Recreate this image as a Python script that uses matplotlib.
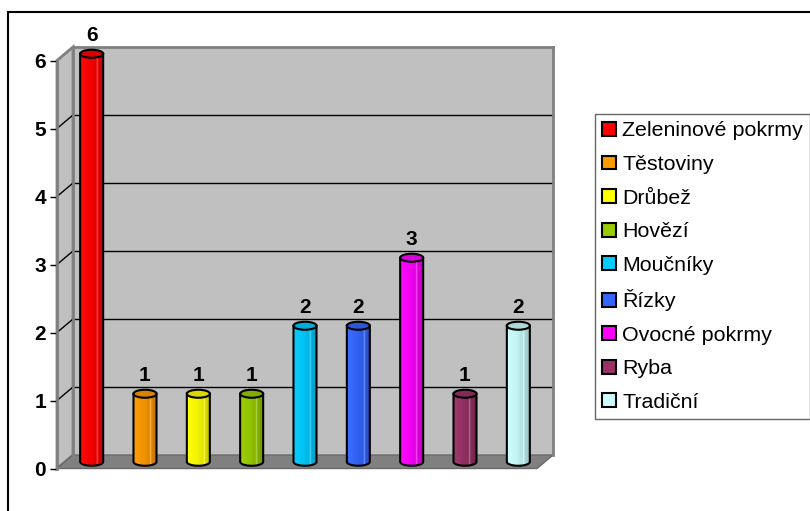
import matplotlib
matplotlib.use('Agg')
import matplotlib.pyplot as plt
import numpy as np
from matplotlib.patches import Polygon, PathPatch, Ellipse, Rectangle, Patch
from matplotlib.path import Path
from matplotlib.colors import LinearSegmentedColormap, to_rgb

categories = ['Zeleninové pokrmy', 'Těstoviny', 'Drůbež', 'Hovězí', 'Moučníky',
              'Řízky', 'Ovocné pokrmy', 'Ryba', 'Tradiční']
values = [6, 1, 1, 1, 2, 2, 3, 1, 2]
colors = ['#FF0000', '#FF9900', '#FFFF00', '#99CC00', '#00CCFF',
          '#3366FF', '#FF00FF', '#993366', '#CCFFFF']
y_ticks = [0, 1, 2, 3, 4, 5, 6]

plt.rcParams['font.family'] = ['Liberation Sans', 'DejaVu Sans']

W, H = 810, 511
fig = plt.figure(figsize=(W / 100, H / 100), dpi=100)


def rect(l, t, r, b):
    return [l / W, 1 - b / H, (r - l) / W, (b - t) / H]


dpx, dpy = 16, 13.5
ax = fig.add_axes(rect(73, 47, 553, 455))
axf = fig.add_axes(rect(73 - dpx, 47 + dpy, 553 - dpx, 455 + dpy))

n = len(values)
ymax = y_ticks[-1]
DX = -dpx / 480 * n
DY = -dpy / 408 * ymax

wall = '#C0C0C0'
edge = '#808080'

ax.set_facecolor(wall)
ax.set_axisbelow(True)
ax.set_yticks(y_ticks[1:-1])
ax.set_xticks([])
ax.grid(axis='y', color='black', lw=1)
ax.tick_params(length=0, labelleft=False)
for s in ['top', 'right', 'left']:
    ax.spines[s].set_color(edge)
    ax.spines[s].set_linewidth(2)
ax.spines['bottom'].set_visible(False)

# left wall
ax.add_patch(Polygon([(DX, DY), (DX, ymax + DY), (0, ymax), (0, 0)], closed=True,
                     fc=wall, ec=edge, lw=2, clip_on=False, zorder=1))
for v in y_ticks[1:-1]:
    ax.plot([DX, 0], [v + DY, v], color='black', lw=1, clip_on=False, zorder=1.5)
# floor
ax.add_patch(Polygon([(DX, DY), (n + DX, DY), (n, 0), (0, 0)], closed=True,
                     fc='#808080', ec='#6a6a6a', lw=1, clip_on=False, zorder=1))

w = 23 / 480 * n
eh = 8 / 408 * ymax
b = DY / 2
grad = np.linspace(0, 1, 256).reshape(1, -1)


def mix(c, t):
    return tuple(x + (1 - x) * t for x in c)


def shade(c, f):
    return tuple(x * f for x in c)


for i, (v, c) in enumerate(zip(values, colors)):
    rgb = to_rgb(c)
    cx = i + 0.5 + DX / 2
    top = b + v
    th = np.linspace(np.pi, 2 * np.pi, 60)
    pts = [(cx - w / 2, top), (cx - w / 2, b)]
    pts += list(zip(cx + w / 2 * np.cos(th), b + eh / 2 * np.sin(th)))
    pts += [(cx + w / 2, top), (cx - w / 2, top)]
    path = Path(pts, closed=True)
    cmap = LinearSegmentedColormap.from_list('c%d' % i, [
        (0.0, mix(rgb, 0.05)), (0.45, shade(rgb, 0.95)), (0.68, shade(rgb, 0.88)),
        (0.72, mix(rgb, 0.35)), (0.77, shade(rgb, 0.85)), (1.0, shade(rgb, 0.75))])
    clip = PathPatch(path, transform=ax.transData)
    im = ax.imshow(grad, cmap=cmap, extent=(cx - w / 2, cx + w / 2, b - eh / 2, top),
                   aspect='auto', zorder=3, interpolation='bilinear')
    im.set_clip_path(clip)
    im.set_clip_box(fig.bbox)
    ax.add_patch(PathPatch(path, fc='none', ec='black', lw=1.5, zorder=4, clip_on=False))
    ax.add_patch(Ellipse((cx, top), w, eh, fc=shade(rgb, 0.85), ec='black', lw=1.5,
                         zorder=5, clip_on=False))
    ax.annotate(str(v), (cx, top), xytext=(0, 13), textcoords='offset points',
                ha='center', va='center', fontsize=15, fontweight='bold',
                annotation_clip=False, zorder=6)

ax.set_xlim(0, n)
ax.set_ylim(0, ymax)

# front axis
axf.set_facecolor('none')
axf.set_ylim(0, ymax)
axf.set_xlim(0, n)
axf.set_yticks(y_ticks)
axf.set_yticklabels([str(t) for t in y_ticks], fontsize=15, fontweight='bold')
axf.set_xticks([])
for s in ['top', 'right', 'bottom']:
    axf.spines[s].set_visible(False)
axf.spines['left'].set_color(edge)
axf.spines['left'].set_linewidth(2)
axf.tick_params(axis='y', length=5, width=1, color='black', pad=3, direction='out')

# outer chart border
fig.add_artist(Rectangle((8 / W, -0.5), 2, 1 - 12 / H + 0.5, transform=fig.transFigure,
                         fill=False, ec='black', lw=1.5))

handles = [Patch(fc=c, ec='black', lw=1.5) for c in colors]
leg = fig.legend(handles, categories, loc='upper left',
                 bbox_to_anchor=(595 / W, 1 - 114 / H), frameon=True, fancybox=False,
                 edgecolor='#404040', fontsize=15.4, handlelength=0.62, handleheight=0.62,
                 handletextpad=0.3, labelspacing=0.68, borderpad=0.35, borderaxespad=0)
leg.get_frame().set_linewidth(1)

fig.savefig('out.png', dpi=100)
